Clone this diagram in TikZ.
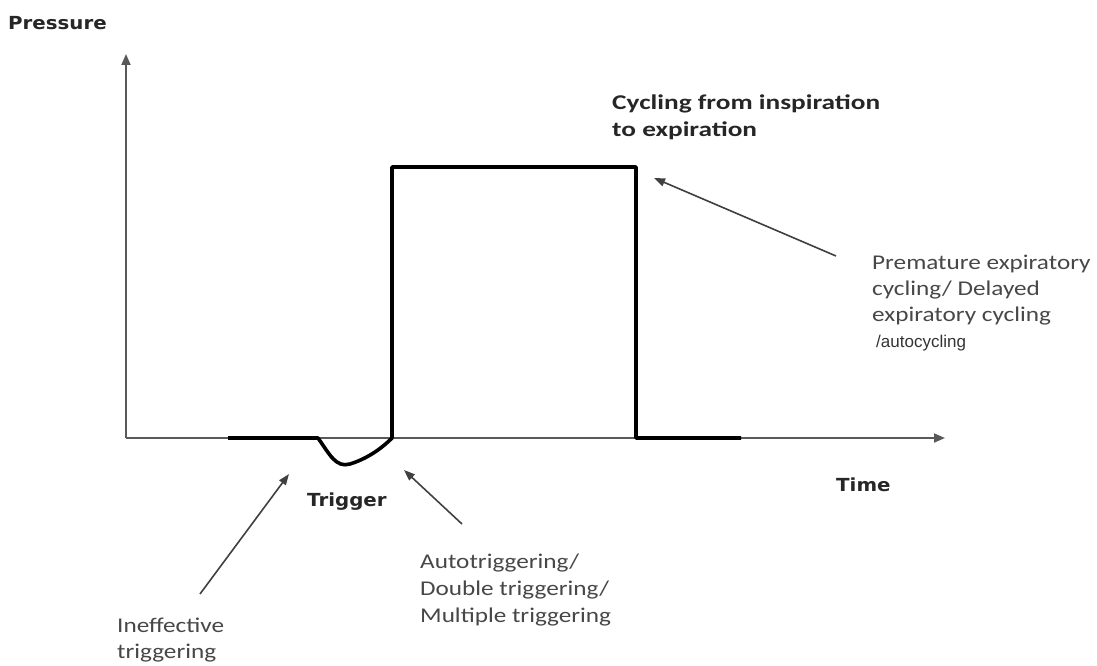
\documentclass[tikz,border=0pt]{standalone}
\usepackage{fontspec}
\setmainfont{Carlito}
\newfontfamily\lblfont[FakeStretch=1.2]{Carlito}
\newfontfamily\cycfont[FakeStretch=1.3]{Carlito}
\newfontfamily\headfont[FakeStretch=1.1]{DejaVu Sans}
\newfontfamily\arialfont{Liberation Sans}
\usetikzlibrary{arrows.meta}
\begin{document}
\begin{tikzpicture}[x=1pt,y=-1pt,
  axis/.style={line width=1.8pt,-{Triangle[length=11pt,width=9pt]},color=black!65},
  wave/.style={draw=black,line width=3.6pt,line join=round},
  pointer/.style={draw=black!75,line width=1.6pt,-{Triangle[length=11pt,width=8pt]}},
  headlbl/.style={font=\headfont\bfseries\fontsize{18}{22}\selectfont,inner sep=0pt,text=black!85,anchor=base west},
  boldlbl/.style={font=\cycfont\bfseries\fontsize{21}{25}\selectfont,inner sep=0pt,text=black!85,anchor=base west},
  lbl/.style={font=\lblfont\fontsize{21}{26}\selectfont,inner sep=0pt,text=black!72,anchor=base west}]
\useasboundingbox (0,0) rectangle (1097,666);
% axes
\coordinate (O) at (126,438);
\coordinate (ytop) at (126,54);
\coordinate (xend) at (945,438);
\draw[axis] (O) -- (ytop);
\draw[axis] (O) -- (xend);
% waveform
\coordinate (w0) at (228,438);
\coordinate (w1) at (318,438);
\coordinate (w2) at (392,438);
\coordinate (w3) at (392,167);
\coordinate (w4) at (636,167);
\coordinate (w5) at (636,438);
\coordinate (w6) at (741,438);
\draw[wave] (w0) -- (w1) .. controls (330,455) and (336,468) .. (350,464) .. controls (366,459) and (380,450) .. (w2) -- (w3) -- (w4) -- (w5) -- (w6);
% labels
\node[headlbl] (pres) at (8,30) {Pressure};
\node[headlbl] (time) at (836,491) {Time};
\node[headlbl] (trig) at (307,506) {Trigger};
\node[boldlbl] (cyc1) at (612,110) {Cycling from inspiration};
\node[boldlbl] (cyc2) at (612,136) {to expiration};
\node[lbl] (prem1) at (872,269) {Premature expiratory};
\node[lbl] (prem2) at (872,295) {cycling/ Delayed};
\node[lbl] (prem3) at (872,321) {expiratory cycling};
\node[anchor=base west,inner sep=0pt,font=\arialfont\fontsize{17}{20}\selectfont,text=black!80] (auto) at (876,347) {/autocycling};
\node[lbl] (atrig1) at (420,568) {Autotriggering/};
\node[lbl] (atrig2) at (420,595) {Double triggering/};
\node[lbl] (atrig3) at (420,622) {Multiple triggering};
\node[lbl] (ineff1) at (117,632) {Ineffective};
\node[lbl] (ineff2) at (117,658) {triggering};
% pointers
\coordinate (p1s) at (836,256);
\coordinate (p1e) at (654,178);
\coordinate (p2s) at (200,594);
\coordinate (p2e) at (289,474);
\coordinate (p3s) at (462,524);
\coordinate (p3e) at (404,470);
\draw[pointer] (p1s) -- (p1e);
\draw[pointer] (p2s) -- (p2e);
\draw[pointer] (p3s) -- (p3e);
\end{tikzpicture}
\end{document}
